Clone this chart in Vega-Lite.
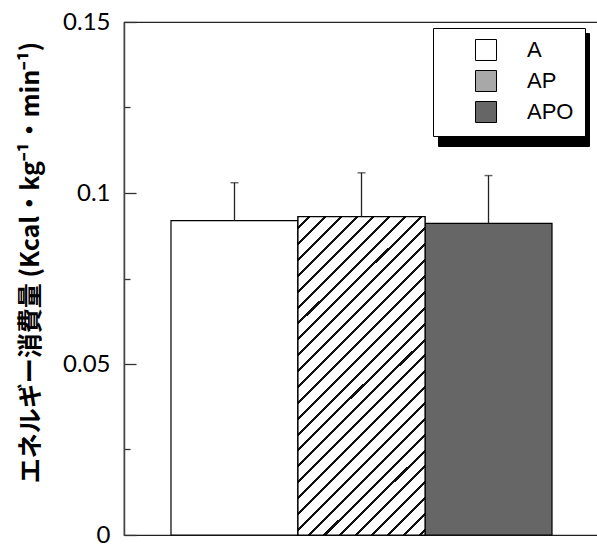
{
"$schema": "https://vega.github.io/schema/vega-lite/v6.json",
"width": 475, "height": 513,
"autosize": {"type": "none"},
"padding": {"left": 124, "top": 22, "right": 0, "bottom": 9},
"background": "white",
"config": {"view": {"stroke": "#222", "strokeWidth": 1.2}},
"data": {"values": [
 {"g": "A", "v": 0.0919, "hi": 0.103},
 {"g": "AP", "v": 0.0931, "hi": 0.1059},
 {"g": "APO", "v": 0.0911, "hi": 0.1051}
]},
"encoding": {"x": {"field": "g", "type": "nominal", "axis": null, "sort": ["A", "AP", "APO"], "scale": {"paddingInner": 0, "paddingOuter": 0.37}}},
"layer": [
 {"mark": {"type": "bar", "stroke": "black", "strokeWidth": 1.2},
  "encoding": {
   "y": {"field": "v", "type": "quantitative", "scale": {"domain": [0, 0.15], "nice": false},
    "axis": {"values": [0, 0.025, 0.05, 0.075, 0.1, 0.125, 0.15], "format": "~g",
     "labelExpr": "round(datum.value*1000) % 50 ? '' : datum.label",
     "tickSize": {"condition": {"test": "round(datum.value*1000) % 50 != 0", "value": -6}, "value": -12},
     "labelPadding": 26, "labelFont": "Lato", "labelFontSize": 24, "labelColor": "black",
     "labelFlush": false, "labelBound": false, "labelOverlap": false,
     "tickColor": "#333", "tickWidth": 1.3, "domainColor": "#444", "domainWidth": 1.5, "grid": false,
     "title": "エネルギー消費量 (Kcal・kg⁻¹・min⁻¹)", "titleFont": "Noto Sans CJK JP", "titleFontSize": 25,
     "titleFontWeight": "bold", "titleColor": "black", "titleX": -94, "titleY": 240, "titleAngle": -90,
     "titleAlign": "center", "titleBaseline": "middle"}},
   "fill": {"field": "g", "type": "nominal",
    "scale": {"range": ["white", "#a8a8a8", "#666666"]},
    "legend": {"orient": "none", "legendX": 309, "legendY": 6, "title": null, "padding": 11, "symbolOffset": 31,
     "symbolType": "square", "symbolSize": 441, "symbolStrokeColor": "black", "symbolStrokeWidth": 1, "symbolOpacity": 1,
     "labelFont": "Liberation Sans", "labelFontSize": 22, "labelColor": "black", "labelOffset": 30, "rowPadding": 5,
     "strokeColor": "black", "fillColor": "white", "zindex": 2,
     "encode": {"legend": {"strokeWidth": {"value": 2}}}}
   }
  }
 },
 {"transform": [{"filter": "datum.g === 'AP'"}],
  "mark": {"type": "bar", "stroke": "black", "strokeWidth": 1.2,
   "fill": {"gradient": "linear", "x1": 0, "y1": 0, "x2": 0.4803, "y2": 1.2068, "stops": [
      {"offset": 0, "color": "white"},
      {"offset": 0.0228, "color": "white"}, {"offset": 0.0228, "color": "#111"}, {"offset": 0.0296, "color": "#111"}, {"offset": 0.0296, "color": "white"},
      {"offset": 0.0585, "color": "white"}, {"offset": 0.0585, "color": "#111"}, {"offset": 0.0653, "color": "#111"}, {"offset": 0.0653, "color": "white"},
      {"offset": 0.0941, "color": "white"}, {"offset": 0.0941, "color": "#111"}, {"offset": 0.1009, "color": "#111"}, {"offset": 0.1009, "color": "white"},
      {"offset": 0.1298, "color": "white"}, {"offset": 0.1298, "color": "#111"}, {"offset": 0.1366, "color": "#111"}, {"offset": 0.1366, "color": "white"},
      {"offset": 0.1654, "color": "white"}, {"offset": 0.1654, "color": "#111"}, {"offset": 0.1722, "color": "#111"}, {"offset": 0.1722, "color": "white"},
      {"offset": 0.2010, "color": "white"}, {"offset": 0.2010, "color": "#111"}, {"offset": 0.2078, "color": "#111"}, {"offset": 0.2078, "color": "white"},
      {"offset": 0.2367, "color": "white"}, {"offset": 0.2367, "color": "#111"}, {"offset": 0.2435, "color": "#111"}, {"offset": 0.2435, "color": "white"},
      {"offset": 0.2723, "color": "white"}, {"offset": 0.2723, "color": "#111"}, {"offset": 0.2791, "color": "#111"}, {"offset": 0.2791, "color": "white"},
      {"offset": 0.3080, "color": "white"}, {"offset": 0.3080, "color": "#111"}, {"offset": 0.3148, "color": "#111"}, {"offset": 0.3148, "color": "white"},
      {"offset": 0.3436, "color": "white"}, {"offset": 0.3436, "color": "#111"}, {"offset": 0.3504, "color": "#111"}, {"offset": 0.3504, "color": "white"},
      {"offset": 0.3792, "color": "white"}, {"offset": 0.3792, "color": "#111"}, {"offset": 0.3861, "color": "#111"}, {"offset": 0.3861, "color": "white"},
      {"offset": 0.4149, "color": "white"}, {"offset": 0.4149, "color": "#111"}, {"offset": 0.4217, "color": "#111"}, {"offset": 0.4217, "color": "white"},
      {"offset": 0.4505, "color": "white"}, {"offset": 0.4505, "color": "#111"}, {"offset": 0.4573, "color": "#111"}, {"offset": 0.4573, "color": "white"},
      {"offset": 0.4862, "color": "white"}, {"offset": 0.4862, "color": "#111"}, {"offset": 0.4930, "color": "#111"}, {"offset": 0.4930, "color": "white"},
      {"offset": 0.5218, "color": "white"}, {"offset": 0.5218, "color": "#111"}, {"offset": 0.5286, "color": "#111"}, {"offset": 0.5286, "color": "white"},
      {"offset": 0.5575, "color": "white"}, {"offset": 0.5575, "color": "#111"}, {"offset": 0.5643, "color": "#111"}, {"offset": 0.5643, "color": "white"},
      {"offset": 0.5931, "color": "white"}, {"offset": 0.5931, "color": "#111"}, {"offset": 0.5999, "color": "#111"}, {"offset": 0.5999, "color": "white"},
      {"offset": 0.6287, "color": "white"}, {"offset": 0.6287, "color": "#111"}, {"offset": 0.6355, "color": "#111"}, {"offset": 0.6355, "color": "white"},
      {"offset": 0.6644, "color": "white"}, {"offset": 0.6644, "color": "#111"}, {"offset": 0.6712, "color": "#111"}, {"offset": 0.6712, "color": "white"},
      {"offset": 0.7000, "color": "white"}, {"offset": 0.7000, "color": "#111"}, {"offset": 0.7068, "color": "#111"}, {"offset": 0.7068, "color": "white"},
      {"offset": 0.7357, "color": "white"}, {"offset": 0.7357, "color": "#111"}, {"offset": 0.7425, "color": "#111"}, {"offset": 0.7425, "color": "white"},
      {"offset": 0.7713, "color": "white"}, {"offset": 0.7713, "color": "#111"}, {"offset": 0.7781, "color": "#111"}, {"offset": 0.7781, "color": "white"},
      {"offset": 0.8069, "color": "white"}, {"offset": 0.8069, "color": "#111"}, {"offset": 0.8137, "color": "#111"}, {"offset": 0.8137, "color": "white"},
      {"offset": 0.8426, "color": "white"}, {"offset": 0.8426, "color": "#111"}, {"offset": 0.8494, "color": "#111"}, {"offset": 0.8494, "color": "white"},
      {"offset": 0.8782, "color": "white"}, {"offset": 0.8782, "color": "#111"}, {"offset": 0.8850, "color": "#111"}, {"offset": 0.8850, "color": "white"},
      {"offset": 0.9139, "color": "white"}, {"offset": 0.9139, "color": "#111"}, {"offset": 0.9207, "color": "#111"}, {"offset": 0.9207, "color": "white"},
      {"offset": 0.9495, "color": "white"}, {"offset": 0.9495, "color": "#111"}, {"offset": 0.9563, "color": "#111"}, {"offset": 0.9563, "color": "white"},
      {"offset": 0.9852, "color": "white"}, {"offset": 0.9852, "color": "#111"}, {"offset": 0.9920, "color": "#111"}, {"offset": 0.9920, "color": "white"},
      {"offset": 1, "color": "white"}]}},
  "encoding": {
   "y": {"field": "v", "type": "quantitative", "scale": {"domain": [0, 0.15], "nice": false}}
  }
 },
 {"mark": {"type": "rule", "strokeWidth": 1.3},
  "encoding": {
   "y": {"field": "v", "type": "quantitative", "scale": {"domain": [0, 0.15], "nice": false}},
   "y2": {"field": "hi"},
   "stroke": {"field": "g", "type": "nominal", "scale": {"domain": ["A", "AP", "APO"], "range": ["#222", "#222", "#222"]},
    "legend": {"orient": "none", "legendX": 314, "legendY": 11, "title": null, "padding": 11, "symbolOffset": 31,
     "symbolType": "square", "symbolSize": 697, "symbolStrokeWidth": 0, "symbolOpacity": 0,
     "labelExpr": "''", "labelFontSize": 1, "labelOffset": 71, "rowPadding": 5,
     "strokeColor": "black", "fillColor": "black", "zindex": 1,
     "encode": {"legend": {"strokeWidth": {"value": 2}}}}}
  }
 },
 {"mark": {"type": "tick", "color": "#222", "size": 8, "thickness": 1.4, "orient": "horizontal"},
  "encoding": {"y": {"field": "hi", "type": "quantitative", "scale": {"domain": [0, 0.15], "nice": false}}}
 }
]
}
